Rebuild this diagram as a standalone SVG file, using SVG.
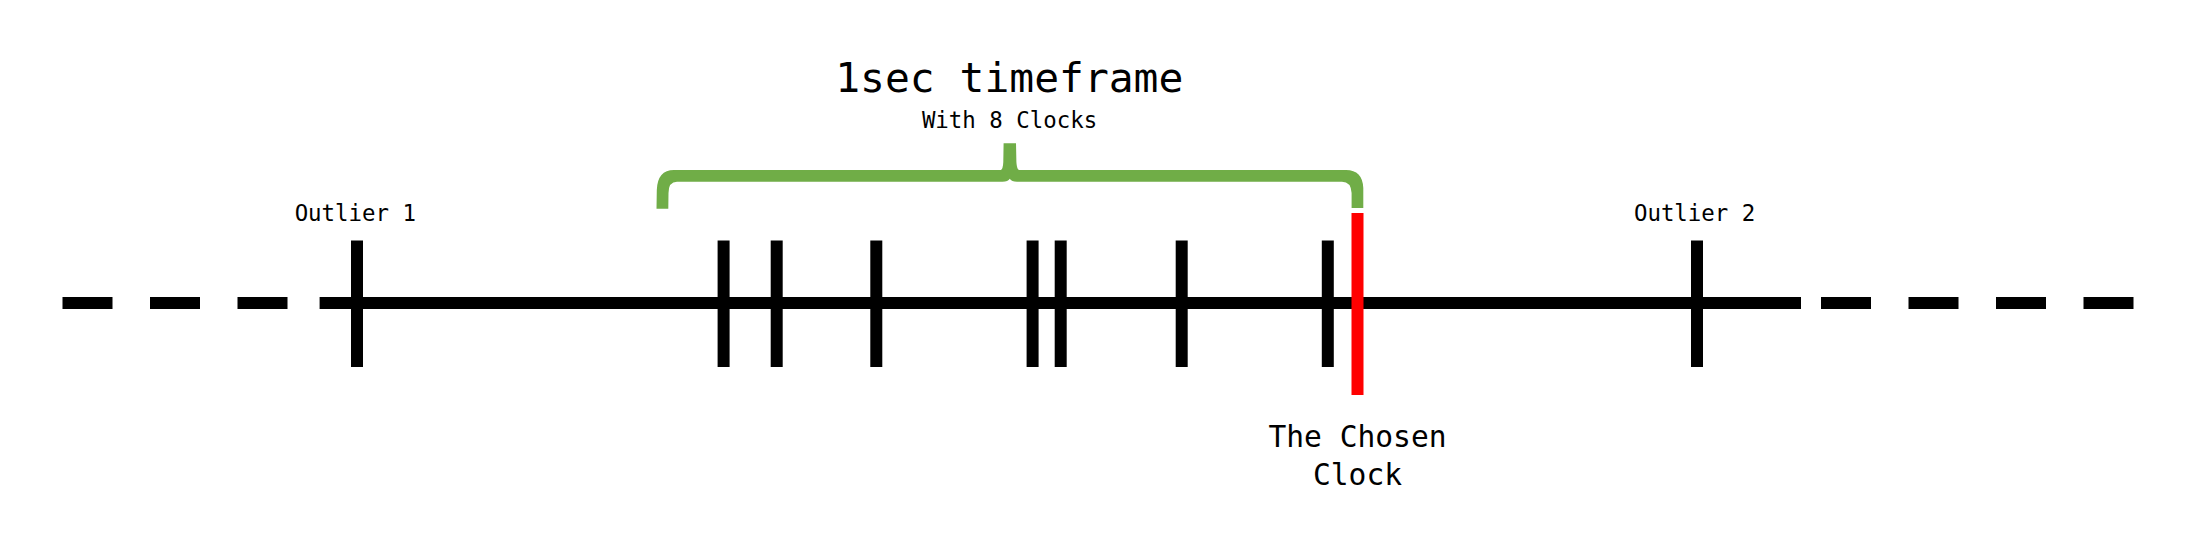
<svg xmlns="http://www.w3.org/2000/svg" width="2198" height="540" viewBox="0 0 2198 540">
<style>
text{font-family:"DejaVu Sans Mono","Liberation Mono",monospace;fill:#000;text-anchor:middle}
.small{font-size:22.4px}
.title{font-size:41.3px}
.mid{font-size:29.6px}
.tick{stroke:#000;stroke-width:12}
.axis{stroke:#000;stroke-width:12}
.dash{stroke:#000;stroke-width:12;stroke-dasharray:50 37.5}
</style>
<rect width="2198" height="540" fill="#fff"/>
<g id="connectors">
<line class="dash" x1="62.5" y1="303" x2="290" y2="303"/>
<line class="axis" x1="319.6" y1="303" x2="1801" y2="303"/>
<line class="dash" x1="1821" y1="303" x2="2133.5" y2="303"/>
</g>
<g id="title">
<text class="title" x="1009.3" y="91.7">1sec timeframe</text>
<text class="small" x="1009.5" y="128.3">With 8 Clocks</text>
</g>
<g id="bracket">
<path fill="#70AD47" d="M656.5 208.8 L656.8 190 Q657.5 170 674 170 L1000.8 170 Q1003 169 1003.3 162 L1003.6 143.3 L1016 143.3 L1016.4 162 Q1016.8 169 1019 170 L1346 170 Q1362.5 170 1363.3 188 L1363.3 208 L1351.6 208 L1351.6 193 Q1351 181.7 1342 181.7 L1017 181.7 Q1011.5 181.7 1009.8 178.8 Q1008 181.7 1002.5 181.7 L677 181.7 Q668.5 181.7 668.5 193 L668.3 208.8 Z"/>
</g>
<g id="outlier1">
<line class="tick" x1="357" y1="240.5" x2="357" y2="367"/>
<text class="small" x="355.3" y="220.7">Outlier 1</text>
</g>
<g id="clock1"><line class="tick" x1="723.6" y1="240.5" x2="723.6" y2="367"/></g>
<g id="clock2"><line class="tick" x1="776.7" y1="240.5" x2="776.7" y2="367"/></g>
<g id="clock3"><line class="tick" x1="876.3" y1="240.5" x2="876.3" y2="367"/></g>
<g id="clock4"><line class="tick" x1="1032.6" y1="240.5" x2="1032.6" y2="367"/></g>
<g id="clock5"><line class="tick" x1="1060.7" y1="240.5" x2="1060.7" y2="367"/></g>
<g id="clock6"><line class="tick" x1="1181.7" y1="240.5" x2="1181.7" y2="367"/></g>
<g id="clock7"><line class="tick" x1="1327.8" y1="240.5" x2="1327.8" y2="367"/></g>
<g id="chosen">
<line stroke="#FF0000" stroke-width="12" x1="1357.5" y1="213" x2="1357.5" y2="395"/>
<text class="mid" x="1357.5" y="446.7">The Chosen</text>
<text class="mid" x="1357.5" y="485">Clock</text>
</g>
<g id="outlier2">
<line class="tick" x1="1697" y1="240.5" x2="1697" y2="367"/>
<text class="small" x="1694.6" y="220.7">Outlier 2</text>
</g>
</svg>
